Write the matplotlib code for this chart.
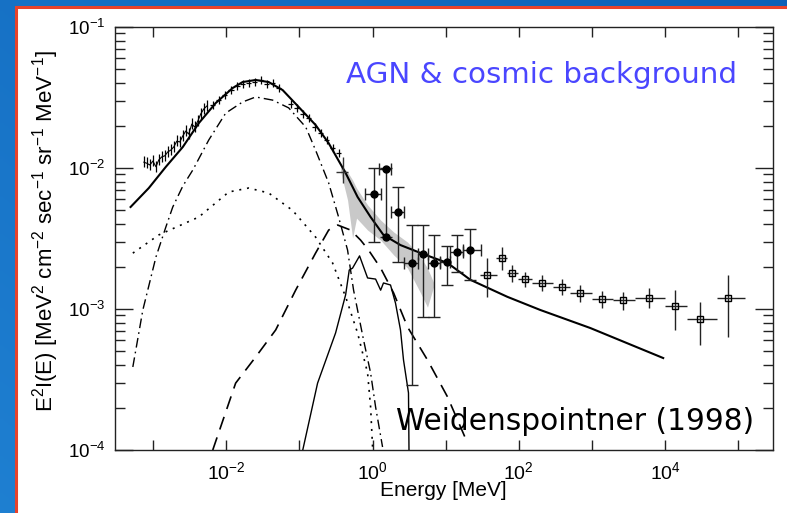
import numpy as np
import matplotlib
matplotlib.use("Agg")
import matplotlib.pyplot as plt
from matplotlib.patches import Rectangle
from matplotlib.ticker import FixedLocator, NullFormatter, FuncFormatter

plt.rcParams["font.family"] = ["Liberation Sans", "DejaVu Sans"]
plt.rcParams["mathtext.fontset"] = "custom"
plt.rcParams["mathtext.rm"] = "Liberation Sans"
plt.rcParams["mathtext.default"] = "regular"

# ---------------- model curves (E in MeV, E^2 I(E)) ----------------
total_E = [4.9e-4, 8.7e-4, 1.49e-3, 2.54e-3, 4.2e-3, 7.16e-3, 1.22e-2, 1.67e-2, 2.52e-2,
           3.79e-2, 5.89e-2, 9.75e-2, 0.166, 0.251, 0.428, 0.624, 0.94, 1.41, 2.41, 4.97,
           10.6, 21.8, 69.8, 197, 951, 9447]
total_I = [5.29e-3, 7.21e-3, 1.02e-2, 1.41e-2, 2.08e-2, 2.89e-2, 3.69e-2, 4.07e-2, 4.21e-2,
           4.07e-2, 3.57e-2, 2.71e-2, 2.02e-2, 1.50e-2, 9.22e-3, 6.23e-3, 4.49e-3, 3.35e-3,
           2.84e-3, 2.45e-3, 2.12e-3, 1.61e-3, 1.22e-3, 9.84e-4, 7.33e-4, 4.49e-4]

agn_E = [5.26e-4, 7.21e-4, 1.09e-3, 1.49e-3, 1.85e-3, 2.54e-3, 3.48e-3, 5.75e-3, 9.8e-3,
         1.67e-2, 2.52e-2, 4.3e-2, 7.12e-2, 0.122, 0.166, 0.251, 0.343, 0.455, 0.55, 0.753,
         0.94, 1.10, 1.37]
agn_I = [3.88e-4, 9.84e-4, 2.34e-3, 3.82e-3, 5.29e-3, 7.45e-3, 9.68e-3, 1.58e-2, 2.45e-2,
         2.94e-2, 3.19e-2, 3.03e-2, 2.67e-2, 1.95e-2, 1.34e-2, 7.83e-3, 4.49e-3, 2.62e-3,
         1.36e-3, 6.03e-4, 3.52e-4, 2.02e-4, 1.05e-4]

soft_E = [5.26e-4, 1.19e-3, 4.2e-3, 1.08e-2, 2.02e-2, 3.79e-2, 8.07e-2, 0.166, 0.284, 0.428,
          0.624, 0.855, 0.94, 1.0]
soft_I = [2.49e-3, 3.35e-3, 4.49e-3, 6.76e-3, 7.21e-3, 6.65e-3, 5.0e-3, 3.24e-3, 2.12e-3,
          1.22e-3, 6.76e-4, 3.52e-4, 2.02e-4, 1.05e-4]

mev_E = [6.52e-3, 1.34e-2, 2.52e-2, 4.73e-2, 8.87e-2, 0.166, 0.251, 0.333, 0.5, 0.686,
         0.88, 1.29, 1.94, 3.01, 5.64, 10.6, 19.9]
mev_I = [1.0e-4, 2.98e-4, 4.57e-4, 7.10e-4, 1.36e-3, 2.49e-3, 3.63e-3, 3.94e-3, 3.63e-3,
         3.08e-3, 2.62e-3, 1.95e-3, 1.30e-3, 7.45e-4, 4.35e-4, 2.38e-4, 1.12e-4]

sn_E = [0.111, 0.177, 0.312, 0.428, 0.48, 0.533, 0.664, 0.855, 1.10, 1.29, 1.41, 1.76,
        2.06, 2.41, 2.65, 3.10, 3.15]
sn_I = [1.0e-4, 2.98e-4, 6.76e-4, 1.26e-3, 1.89e-3, 1.95e-3, 2.38e-3, 1.66e-3, 1.63e-3,
        1.36e-3, 1.53e-3, 1.48e-3, 1.10e-3, 7.10e-4, 4.35e-4, 2.54e-4, 1.0e-4]

# ---------------- uncertainty band ----------------
band_E = [0.366, 0.455, 0.533, 0.604, 0.855, 1.29, 1.94, 3.01, 4.53, 5.64, 6.81]
band_hi = [1.05e-2, 9.38e-3, 8.22e-3, 7.21e-3, 5.47e-3, 4.27e-3, 3.52e-3, 2.98e-3,
           2.34e-3, 1.95e-3, 1.55e-3]
band_lo = [9.38e-3, 5.93e-3, 3.19e-3, 4.41e-3, 3.63e-3, 3.08e-3, 2.42e-3, 1.95e-3,
           1.30e-3, 1.03e-3, 1.43e-3]

# ---------------- X-ray data ----------------
xr1_E = [7.44e-4, 8.18e-4, 9.0e-4, 9.88e-4, 1.09e-3, 1.19e-3, 1.31e-3, 1.44e-3, 1.58e-3,
         1.74e-3, 1.91e-3, 2.10e-3, 2.31e-3, 2.54e-3, 2.79e-3, 3.06e-3, 3.37e-3, 3.70e-3,
         4.07e-3, 4.47e-3, 4.91e-3, 5.40e-3]
xr1_I = [1.10e-2, 1.08e-2, 1.05e-2, 1.12e-2, 1.02e-2, 1.14e-2, 1.20e-2, 1.22e-2, 1.30e-2,
         1.34e-2, 1.41e-2, 1.55e-2, 1.53e-2, 1.69e-2, 1.83e-2, 1.74e-2, 2.05e-2, 1.95e-2,
         2.15e-2, 2.42e-2, 2.62e-2, 2.75e-2]

xr2_E = [6.52e-3, 7.87e-3, 9.51e-3, 1.15e-2, 1.39e-2, 1.67e-2, 2.02e-2, 2.44e-2, 2.95e-2,
         3.56e-2, 4.30e-2, 5.20e-2, 7.59e-2, 9.16e-2, 0.111, 0.134, 0.161, 0.195, 0.235,
         0.284, 0.343]
xr2_I = [2.80e-2, 3.03e-2, 3.30e-2, 3.57e-2, 3.82e-2, 3.94e-2, 4.01e-2, 4.07e-2, 4.21e-2,
         3.94e-2, 4.01e-2, 3.69e-2, 2.85e-2, 2.67e-2, 2.42e-2, 2.26e-2, 1.95e-2, 1.77e-2,
         1.58e-2, 1.39e-2, 1.28e-2]

wide_E, wide_I = [0.389], [9.38e-3]
wide_E_lo, wide_E_hi = [0.312], [0.458]
wide_I_lo, wide_I_hi = [7.83e-3], [1.20e-2]

# ---------------- COMPTEL-range points ----------------
ct_E = [1.03, 1.51, 2.20, 3.41, 4.97, 7.03, 10.3, 14.1, 21.8]
ct_I = [6.55e-3, 9.84e-3, 4.87e-3, 2.12e-3, 2.45e-3, 2.12e-3, 2.16e-3, 2.54e-3, 2.62e-3]
ct_E_lo = [0.80, 1.21, 1.76, 2.65, 4.12, 5.82, 8.49, 11.6, 17.0]
ct_E_hi = [1.29, 1.76, 2.65, 4.12, 5.82, 8.49, 11.6, 17.0, 30.8]
ct_I_lo = [2.98e-3, 3.24e-3, 2.16e-3, 2.89e-4, 8.77e-4, 8.77e-4, 1.48e-3, 1.83e-3, 1.61e-3]
ct_I_hi = [1.0e-2, 1.0e-2, 7.33e-3, 3.94e-3, 3.94e-3, 3.35e-3, 2.80e-3, 3.35e-3, 3.69e-3]
ct_extra_E, ct_extra_I = [1.51], [3.24e-3]

# ---------------- EGRET-range points ----------------
eg_E = [37.2, 59.7, 81.8, 123, 210, 394, 695, 1387, 2685, 6085, 1.38e4, 3.03e4, 7.30e4]
eg_I = [1.74e-3, 2.30e-3, 1.80e-3, 1.63e-3, 1.53e-3, 1.43e-3, 1.30e-3, 1.18e-3, 1.16e-3,
        1.20e-3, 1.05e-3, 8.49e-4, 1.20e-3]
eg_E_lo = [29.9, 49.4, 69.8, 98.8, 153, 297, 507, 1012, 1960, 3917, 1.0e4, 2.01e4, 5.17e4]
eg_E_hi = [51.0, 69.8, 98.8, 153, 297, 507, 1012, 1960, 3917, 1.0e4, 2.01e4, 5.17e4, 1.25e5]
eg_I_lo = [1.22e-3, 1.89e-3, 1.55e-3, 1.43e-3, 1.34e-3, 1.26e-3, 1.12e-3, 1.02e-3, 9.84e-4,
           1.02e-3, 7.10e-4, 5.55e-4, 6.33e-4]
eg_I_hi = [2.30e-3, 2.75e-3, 2.05e-3, 1.83e-3, 1.74e-3, 1.63e-3, 1.48e-3, 1.34e-3, 1.32e-3,
           1.41e-3, 1.36e-3, 1.12e-3, 1.74e-3]

x_ticks = [1e-3, 1e-2, 1e-1, 1e0, 1e1, 1e2, 1e3, 1e4, 1e5]
x_labelled = [-2, 0, 2, 4]
y_ticks = [1e-4, 1e-3, 1e-2, 1e-1]


def asym(c, lo, hi):
    c, lo, hi = map(np.asarray, (c, lo, hi))
    return np.vstack([c - lo, hi - c])


W, H = 787, 513
fig = plt.figure(figsize=(W / 100, H / 100), dpi=100)

# slide backdrop
bg = fig.add_axes([0, 0, 1, 1])
gx, gy = np.meshgrid(np.linspace(0, 1, 200), np.linspace(0, 1, 200))
t = np.clip(0.55 * gx + 0.45 * (1 - gy), 0, 1)
c0 = np.array([0.12, 0.50, 0.82])
c1 = np.array([0.05, 0.38, 0.72])
img = c0[None, None, :] * (1 - t[..., None]) + c1[None, None, :] * t[..., None]
bg.imshow(img, extent=[0, 1, 0, 1], aspect="auto", origin="upper")
bg.add_patch(Rectangle((15.5 / W, -0.05), 1.1, 1 - 7.5 / H + 0.05, facecolor="white",
                       edgecolor="#e8432b", lw=2.2, transform=bg.transAxes))
bg.set_xlim(0, 1)
bg.set_ylim(0, 1)
bg.axis("off")

ax = fig.add_axes([115 / W, 1 - 450 / H, (773 - 115) / W, (450 - 27) / H])
ax.set_xscale("log")
ax.set_yscale("log")
ax.set_xlim(3e-4, 3e5)
ax.set_ylim(1e-4, 1e-1)

ax.fill_between(band_E, band_lo, band_hi, color="#c9c9c9", lw=0, zorder=1)

ax.plot(total_E, total_I, color="black", lw=1.5, zorder=3)
ax.plot(agn_E, agn_I, color="black", lw=1.0, ls=(0, (7, 3, 1.2, 3)), zorder=3)
ax.plot(soft_E, soft_I, color="black", lw=1.2, ls=(0, (1.2, 3.5)), zorder=3)
ax.plot(mev_E, mev_I, color="black", lw=1.2, ls=(0, (8, 5)), zorder=3)
ax.plot(sn_E, sn_I, color="black", lw=1.0, zorder=3)

xr1 = np.asarray(xr1_I)
ax.errorbar(xr1_E, xr1_I, yerr=[xr1 * 0.08, xr1 * 0.10], fmt="none",
            ecolor="black", elinewidth=0.9, zorder=4)
ax.plot(xr1_E, xr1_I, color="black", lw=0.8, zorder=4)
xr2e, xr2i = np.asarray(xr2_E), np.asarray(xr2_I)
ax.errorbar(xr2_E, xr2_I, xerr=[xr2e * 0.08, xr2e * 0.09], yerr=[xr2i * 0.06, xr2i * 0.07],
            fmt="none", ecolor="black", elinewidth=0.9, zorder=4)
ax.errorbar(wide_E, wide_I, xerr=asym(wide_E, wide_E_lo, wide_E_hi),
            yerr=asym(wide_I, wide_I_lo, wide_I_hi), fmt="none", ecolor="#333333",
            elinewidth=1.0, zorder=4)

ax.errorbar(ct_E, ct_I, xerr=asym(ct_E, ct_E_lo, ct_E_hi), yerr=asym(ct_I, ct_I_lo, ct_I_hi),
            fmt="o", ms=5, color="black", ecolor="#222222", elinewidth=1.0, capsize=4,
            capthick=1.0, zorder=5)
ax.plot(ct_extra_E, ct_extra_I, "o", ms=5, color="black", zorder=5)

ax.errorbar(eg_E, eg_I, xerr=asym(eg_E, eg_E_lo, eg_E_hi), yerr=asym(eg_I, eg_I_lo, eg_I_hi),
            fmt="s", ms=4.5, mfc="none", mec="black", mew=1.0, ecolor="#222222",
            elinewidth=1.0, zorder=5)

# axes styling
for s in ax.spines.values():
    s.set_color("#222222")
    s.set_linewidth(1.0)
ax.xaxis.set_major_locator(FixedLocator(x_ticks))
ax.xaxis.set_minor_locator(FixedLocator([]))


def xfmt(v, pos):
    e = int(round(np.log10(v)))
    return r"$10^{%d}$" % e if e in x_labelled else ""


ax.xaxis.set_major_formatter(FuncFormatter(xfmt))
ax.yaxis.set_major_locator(FixedLocator(y_ticks))
ax.yaxis.set_major_formatter(FuncFormatter(lambda v, p: r"$10^{%d}$" % int(round(np.log10(v)))))
ax.yaxis.set_minor_locator(FixedLocator([m * 10.0 ** d for d in range(-4, -1) for m in range(2, 10)]))
ax.yaxis.set_minor_formatter(NullFormatter())
ax.tick_params(axis="x", which="major", direction="in", length=7, width=1.0, top=True,
               bottom=True, labelsize=14, pad=8, colors="#222222", labelcolor="black")
ax.tick_params(axis="y", which="major", direction="in", length=13, width=1.0, left=True,
               right=True, labelsize=13.5, pad=7, colors="#222222", labelcolor="black")
ax.tick_params(axis="y", which="minor", direction="in", length=7, width=1.0, left=True,
               right=True, colors="#222222")

fig.text(443 / W, 1 - 490 / H, "Energy [MeV]", ha="center", va="center", fontsize=15)
fig.text(46 / W, 1 - 231 / H,
         r"E$^2$I(E) [MeV$^2$ cm$^{-2}$ sec$^{-1}$ sr$^{-1}$ MeV$^{-1}$]",
         ha="center", va="center", rotation=90, fontsize=16)

ax.text(542 / W, 1 - 83 / H, "AGN & cosmic background", transform=fig.transFigure,
        ha="center", va="baseline", fontsize=21.2, color="#4a46ff",
        family=["DejaVu Sans"], zorder=6)
ax.text(575 / W, 1 - 430 / H, "Weidenspointner (1998)", transform=fig.transFigure,
        ha="center", va="baseline", fontsize=21.3, color="black",
        family=["DejaVu Sans"], zorder=6)

fig.savefig("out.png", dpi=100)
